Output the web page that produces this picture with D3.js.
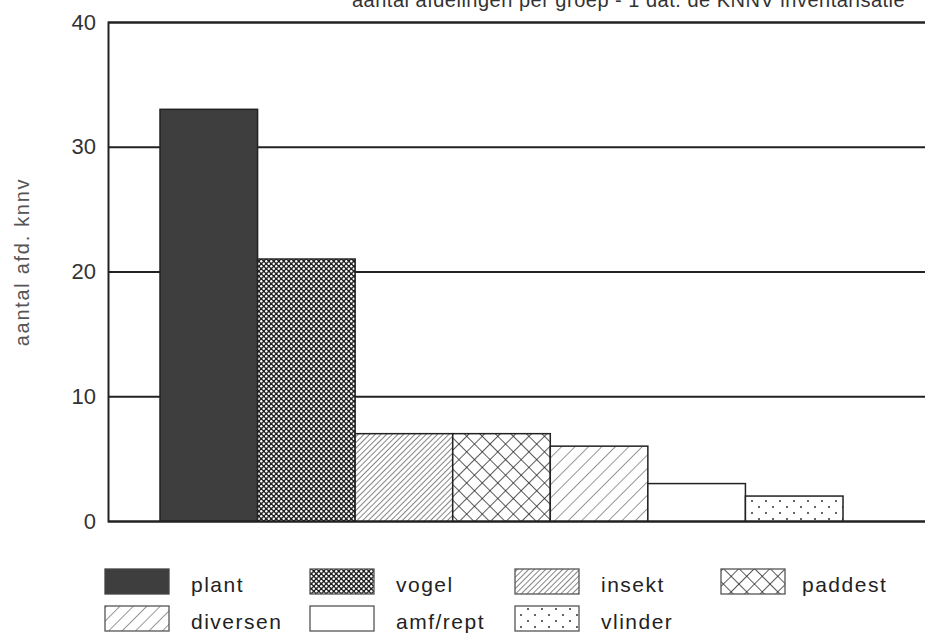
<!DOCTYPE html>
<html>
<head>
<meta charset="utf-8">
<script src="https://cdn.jsdelivr.net/npm/d3@7"></script>
<style>
  body { margin: 0; background: #fff; }
  svg { display: block; font-family: "Liberation Sans", Arial, sans-serif; }
</style>
</head>
<body>
<div id="chart"></div>
<script>
const groups = ["plant", "vogel", "insekt", "paddest", "diversen", "amf/rept", "vlinder"];
const counts = [33, 21, 7, 7, 6, 3, 2];
const yTicks = [0, 10, 20, 30, 40];
// legenda volgorde (2 rijen)
const legendRow1 = ["plant", "vogel", "insekt", "paddest"];
const legendRow2 = ["diversen", "amf/rept", "vlinder"];

const width = 925, height = 641;
const svg = d3.select("#chart").append("svg")
    .attr("width", width).attr("height", height);

const defs = svg.append("defs");

// patronen
function pat(id, w, h) {
  return defs.append("pattern").attr("id", id)
    .attr("patternUnits", "userSpaceOnUse")
    .attr("width", w).attr("height", h);
}
// vogel: fijn geblokt
let p = pat("p-vogel", 5, 5);
p.append("rect").attr("width", 5).attr("height", 5).attr("fill", "#222");
p.append("circle").attr("cx", 1.25).attr("cy", 1.25).attr("r", 1.2).attr("fill", "#fff");
p.append("circle").attr("cx", 3.75).attr("cy", 3.75).attr("r", 1.2).attr("fill", "#fff");
// insekt: dichte schuine lijnen
p = pat("p-insekt", 4, 4).attr("patternTransform", "rotate(45)");
p.append("rect").attr("width", 4).attr("height", 4).attr("fill", "#fff");
p.append("line").attr("x1", 0).attr("y1", 0).attr("x2", 0).attr("y2", 4)
  .attr("stroke", "#333").attr("stroke-width", 1.2);
// paddest: ruitjes
p = pat("p-paddest", 11, 11).attr("patternTransform", "rotate(45)");
p.append("rect").attr("width", 11).attr("height", 11).attr("fill", "#fff");
p.append("line").attr("x1", 0).attr("y1", 0).attr("x2", 0).attr("y2", 11)
  .attr("stroke", "#222").attr("stroke-width", 1.5);
p.append("line").attr("x1", 0).attr("y1", 0).attr("x2", 11).attr("y2", 0)
  .attr("stroke", "#222").attr("stroke-width", 1.5);
// diversen: wijde schuine lijnen
p = pat("p-diversen", 9.5, 9.5).attr("patternTransform", "rotate(45)");
p.append("rect").attr("width", 9.5).attr("height", 9.5).attr("fill", "#fff");
p.append("line").attr("x1", 0).attr("y1", 0).attr("x2", 0).attr("y2", 9.5)
  .attr("stroke", "#444").attr("stroke-width", 1.1);
// vlinder: puntjes
p = pat("p-vlinder", 14, 12);
p.append("rect").attr("width", 14).attr("height", 12).attr("fill", "#fff");
p.append("circle").attr("cx", 3).attr("cy", 3).attr("r", 1).attr("fill", "#333");
p.append("circle").attr("cx", 10).attr("cy", 9).attr("r", 1).attr("fill", "#333");

const fills = {
  "plant": "#3e3e3e",
  "vogel": "url(#p-vogel)",
  "insekt": "url(#p-insekt)",
  "paddest": "url(#p-paddest)",
  "diversen": "url(#p-diversen)",
  "amf/rept": "#fff",
  "vlinder": "url(#p-vlinder)"
};

const mLeft = 108, mRight = 925, mTop = 22, mBottom = 521;

const y = d3.scaleLinear().domain([0, 40]).range([mBottom, mTop]);
const x = d3.scaleBand().domain(groups).range([160, 843]).padding(0);

// titel (bovenkant afgesneden in de scan)
svg.append("text")
  .attr("x", 352).attr("y", 7)
  .attr("font-size", 20).attr("fill", "#333").attr("letter-spacing", 0.5)
  .text("aantal afdelingen per groep - 1 dat. de KNNV inventarisatie");

// as + rasterlijnen
const yAxis = d3.axisLeft(y).tickValues(yTicks)
    .tickSize(-(mRight - mLeft)).tickPadding(12);
const ga = svg.append("g").attr("transform", `translate(${mLeft},0)`).call(yAxis);
ga.select(".domain").attr("stroke", "#222").attr("stroke-width", 2);
ga.selectAll(".tick line").attr("stroke", "#222").attr("stroke-width", 2);
ga.selectAll(".tick text")
  .attr("font-size", 22).attr("fill", "#333")
  .attr("font-family", "Liberation Sans, Arial, sans-serif");

// staven
svg.append("g").selectAll("rect")
  .data(groups)
  .join("rect")
    .attr("x", d => x(d))
    .attr("y", (d, i) => y(counts[i]))
    .attr("width", x.bandwidth())
    .attr("height", (d, i) => y(0) - y(counts[i]))
    .attr("fill", d => fills[d])
    .attr("stroke", "#222")
    .attr("stroke-width", 1.5);

// y-as titel
svg.append("text")
  .attr("transform", "translate(29,262) rotate(-90)")
  .attr("text-anchor", "middle")
  .attr("font-size", 20).attr("letter-spacing", 1.7).attr("fill", "#555")
  .text("aantal afd. knnv");

// legenda
const colX = [105, 310, 515, 721];
const rowY = [569, 606];
const lg = svg.append("g");
[legendRow1, legendRow2].forEach((row, r) => {
  row.forEach((name, c) => {
    lg.append("rect")
      .attr("x", colX[c]).attr("y", rowY[r])
      .attr("width", 64).attr("height", 25)
      .attr("fill", fills[name])
      .attr("stroke", name === "plant" ? "#444" : "#555")
      .attr("stroke-width", 1.3);
    lg.append("text")
      .attr("x", colX[c] + (name === "paddest" ? 81 : 86))
      .attr("y", rowY[r] + 23)
      .attr("font-size", 21).attr("letter-spacing", 1.5).attr("fill", "#222")
      .text(name);
  });
});
</script>
</body>
</html>
